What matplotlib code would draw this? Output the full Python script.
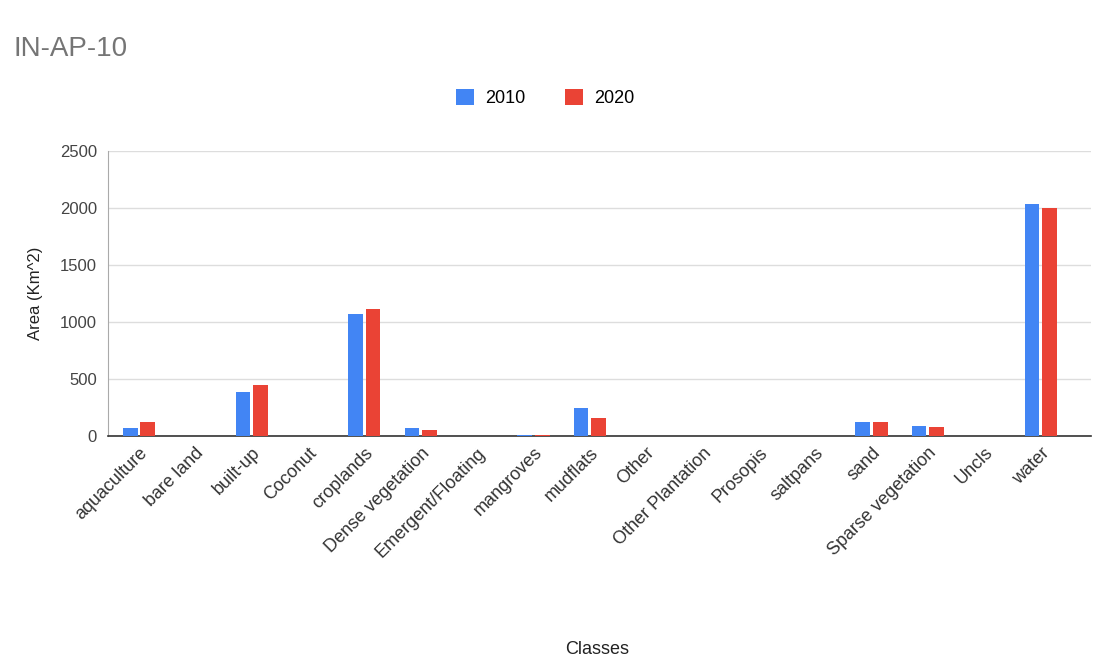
import matplotlib.pyplot as plt
import numpy as np

classes = ['aquaculture', 'bare land', 'built-up', 'Coconut', 'croplands',
           'Dense vegetation', 'Emergent/Floating', 'mangroves', 'mudflats',
           'Other', 'Other Plantation', 'Prosopis', 'saltpans', 'sand',
           'Sparse vegetation', 'Uncls', 'water']
area_2010 = [70, 0, 385, 0, 1070, 70, 2, 5, 245, 0, 0, 1, 1, 125, 90, 0, 2035]
area_2020 = [120, 0, 445, 0, 1110, 50, 2, 10, 160, 0, 0, 1, 1, 120, 80, 0, 2000]

plt.rcParams['font.family'] = ['Liberation Sans', 'DejaVu Sans']

fig = plt.figure(figsize=(11.06, 6.64), dpi=100)
ax = fig.add_axes([0.0977, 0.3434, 0.889, 0.4292])

x = np.arange(len(classes))
w = 0.26
ax.bar(x - w / 2 - 0.025, area_2010, w, color='#4285F4', label='2010', zorder=3)
ax.bar(x + w / 2 + 0.025, area_2020, w, color='#EA4335', label='2020', zorder=3)

ax.set_xlim(-0.55, len(classes) - 0.1)
ax.set_ylim(0, 2500)
ax.set_yticks(np.arange(0, 2501, 500))
ax.yaxis.grid(True, color='#dddddd', linewidth=1, zorder=0)
ax.tick_params(axis='y', length=0, labelsize=12, colors='#444444', pad=8)
ax.tick_params(axis='x', length=0, labelsize=13, colors='#333333', pad=6)
ax.set_xticks(x)
ax.set_xticklabels(classes, rotation=45, ha='right', rotation_mode='anchor')

for s in ['top', 'right']:
    ax.spines[s].set_visible(False)
ax.spines['left'].set_color('#aaaaaa')
ax.spines['bottom'].set_color('#333333')
ax.spines['bottom'].set_linewidth(1.2)

ax.set_ylabel('Area (Km^2)', fontsize=12, color='#222222', labelpad=12)
fig.text(0.54, 0.015, 'Classes', ha='center', fontsize=13, color='#222222')
fig.text(0.012, 0.915, 'IN-AP-10', fontsize=20, color='#757575')

fig.legend(loc='center', bbox_to_anchor=(0.493, 0.852), ncol=2, frameon=False,
           fontsize=13, handlelength=1.0, handleheight=1.0, columnspacing=2.2,
           handletextpad=0.6)

fig.savefig('out.png', dpi=100)
